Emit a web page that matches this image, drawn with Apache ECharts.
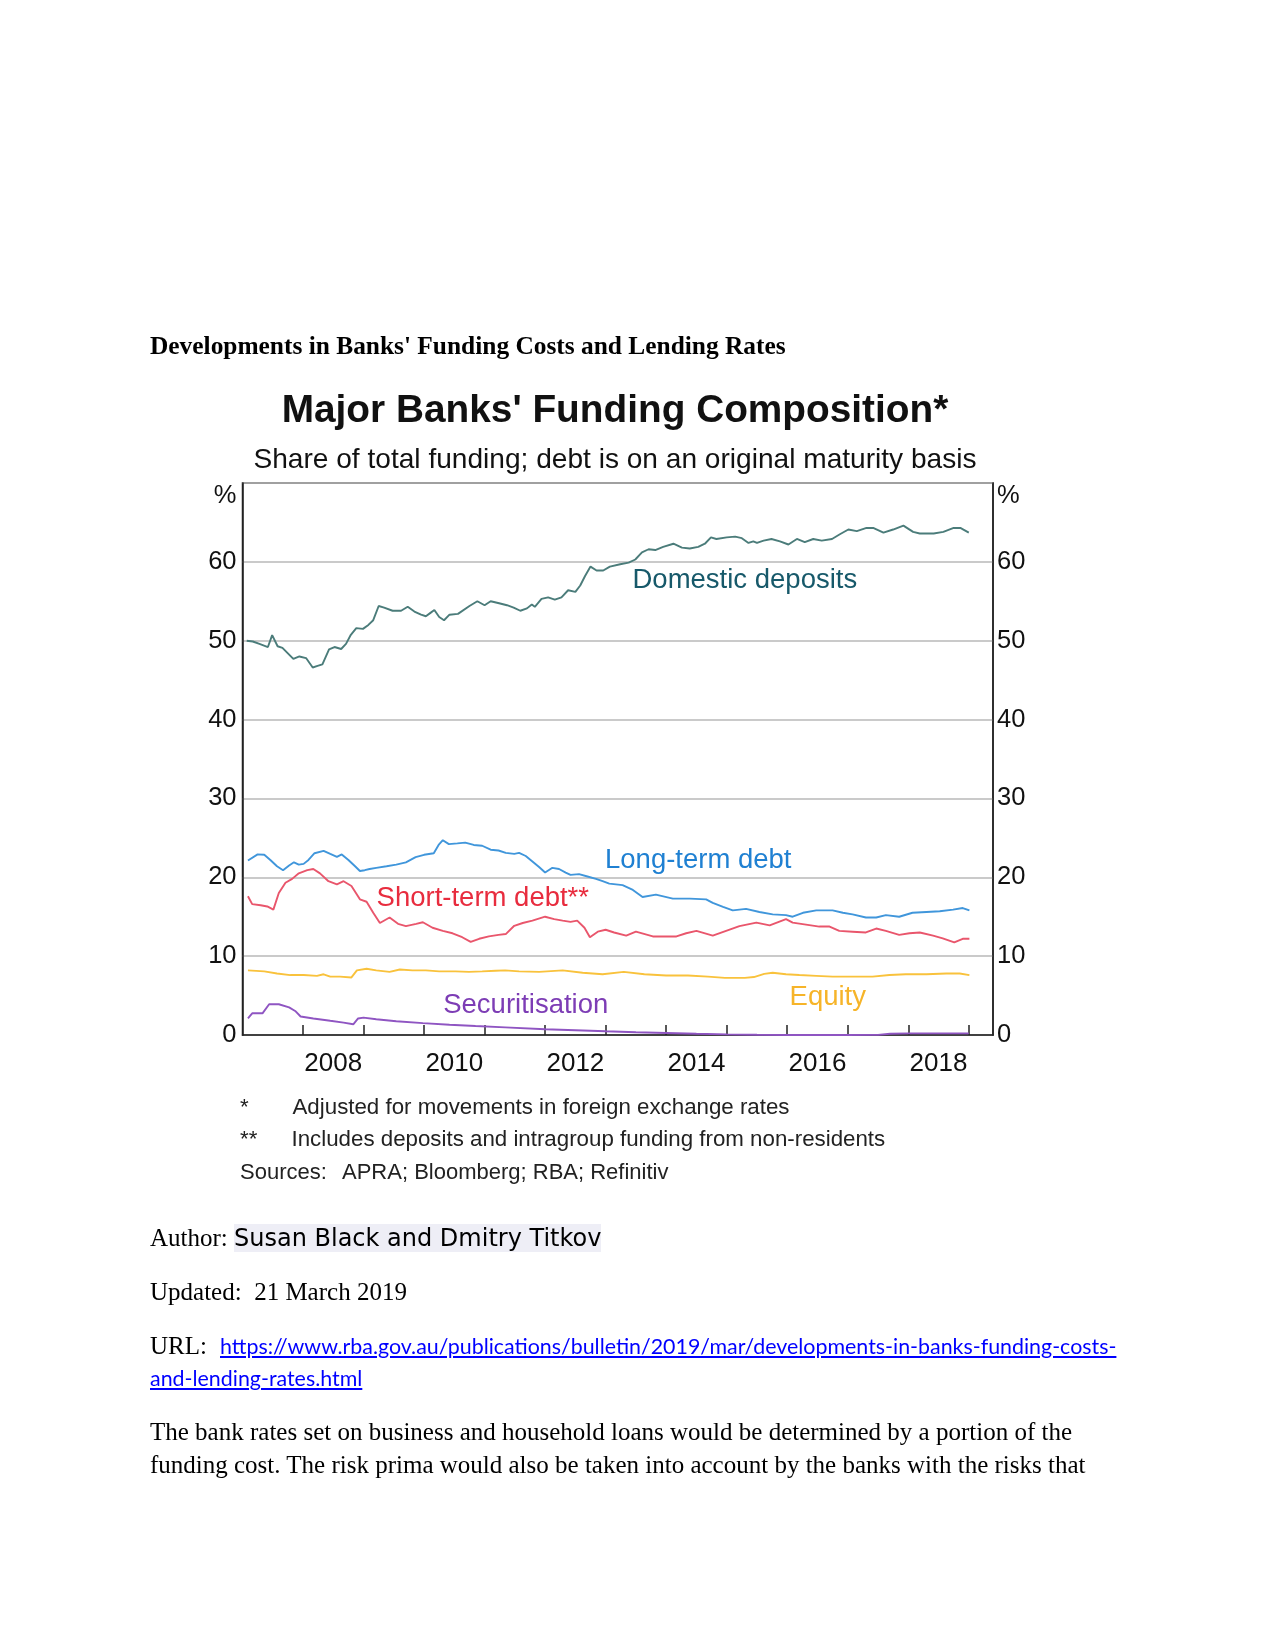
<!DOCTYPE html>
<html>
<head>
<meta charset="utf-8">
<script src="https://cdn.jsdelivr.net/npm/echarts@6/dist/echarts.min.js"></script>
<style>
  html, body { margin: 0; padding: 0; background: #fff; }
  #page { position: relative; width: 1275px; height: 1651px; overflow: hidden; background: #fff; }
  #chart { position: absolute; left: 0; top: 0; width: 1275px; height: 1651px; }
  .t { position: absolute; white-space: nowrap; font-family: 'Liberation Serif', 'Times New Roman', serif; font-size: 25px; line-height: 32px; color: #000; z-index: 2; }
  .b { font-weight: bold; font-size: 25.4px; }
  .auth { font-family: 'DejaVu Sans', sans-serif; font-size: 24px; background: #eeeef6; }
  .link { font-family: 'Lato', sans-serif; font-size: 21.4px; color: #0000ff; text-decoration: underline; }
</style>
</head>
<body>
<div id="page">
  <div id="chart"></div>
  <div class="t b" style="left:150px; top:329px;">Developments in Banks' Funding Costs and Lending Rates</div>
  <div class="t" style="left:150px; top:1222px;">Author: <span class="auth">Susan Black and Dmitry Titkov</span></div>
  <div class="t" style="left:150px; top:1276px;">Updated:&nbsp; 21 March 2019</div>
  <div class="t" style="left:150px; top:1330px;">URL:</div>
  <div class="t" style="left:220px; top:1330px;"><span class="link">https://www.rba.gov.au/publications/bulletin/2019/mar/developments-in-banks-funding-costs-</span></div>
  <div class="t" style="left:150px; top:1362px;"><span class="link">and-lending-rates.html</span></div>
  <div class="t" style="left:150px; top:1416px;">The bank rates set on business and household loans would be determined by a portion of the</div>
  <div class="t" style="left:150px; top:1448.5px;">funding cost. The risk prima would also be taken into account by the banks with the risks that</div>
</div>
<script>
// ---- Data (year as decimal, value in % of total funding) ----
const tickYears = [2008, 2009, 2010, 2011, 2012, 2013, 2014, 2015, 2016, 2017, 2018, 2019];
const labelYears = [2008, 2010, 2012, 2014, 2016, 2018];

const domesticDeposits = [
  [2007.07,50.0],[2007.17,49.9],[2007.28,49.6],[2007.42,49.2],[2007.49,50.7],[2007.58,49.3],[2007.66,49.1],[2007.75,48.4],
  [2007.84,47.7],[2007.94,48.0],[2008.05,47.8],[2008.16,46.6],[2008.24,46.8],[2008.32,47.0],[2008.43,48.9],[2008.52,49.2],
  [2008.63,48.95],[2008.71,49.6],[2008.79,50.75],[2008.88,51.6],[2008.99,51.5],[2009.08,52.0],[2009.16,52.6],[2009.25,54.4],
  [2009.34,54.2],[2009.48,53.8],[2009.62,53.8],[2009.73,54.3],[2009.84,53.7],[2009.95,53.3],[2010.03,53.1],[2010.10,53.5],
  [2010.17,53.9],[2010.25,53.0],[2010.33,52.6],[2010.42,53.3],[2010.56,53.4],[2010.75,54.4],[2010.88,55.0],[2011.0,54.5],
  [2011.10,55.0],[2011.24,54.75],[2011.37,54.5],[2011.48,54.2],[2011.59,53.8],[2011.70,54.1],[2011.78,54.6],[2011.83,54.3],
  [2011.94,55.3],[2012.05,55.5],[2012.16,55.2],[2012.27,55.5],[2012.38,56.4],[2012.50,56.2],[2012.58,57.0],[2012.66,58.2],
  [2012.75,59.4],[2012.85,58.9],[2012.96,58.9],[2013.07,59.4],[2013.24,59.7],[2013.38,59.9],[2013.49,60.3],[2013.60,61.2],
  [2013.71,61.6],[2013.82,61.5],[2013.95,61.9],[2014.12,62.3],[2014.26,61.8],[2014.39,61.7],[2014.53,61.9],[2014.64,62.3],
  [2014.74,63.1],[2014.83,62.9],[2015.0,63.1],[2015.14,63.2],[2015.25,63.0],[2015.36,62.4],[2015.44,62.6],[2015.50,62.4],
  [2015.61,62.7],[2015.74,62.9],[2015.88,62.6],[2016.02,62.2],[2016.16,62.9],[2016.29,62.5],[2016.43,62.9],[2016.57,62.7],
  [2016.74,62.9],[2016.87,63.5],[2017.01,64.1],[2017.15,63.9],[2017.31,64.3],[2017.42,64.3],[2017.59,63.7],[2017.75,64.1],
  [2017.92,64.6],[2018.08,63.8],[2018.19,63.6],[2018.42,63.6],[2018.58,63.8],[2018.75,64.3],[2018.86,64.3],[2019.0,63.7]
];

const longTermDebt = [
  [2007.09,22.13],[2007.25,22.9],[2007.36,22.85],[2007.46,22.2],[2007.57,21.4],[2007.67,20.9],[2007.77,21.5],[2007.85,21.9],
  [2007.93,21.6],[2008.01,21.7],[2008.09,22.2],[2008.19,23.05],[2008.34,23.35],[2008.45,22.97],[2008.56,22.6],[2008.64,22.9],
  [2008.75,22.2],[2008.86,21.4],[2008.94,20.8],[2009.02,20.9],[2009.10,21.05],[2009.21,21.2],[2009.38,21.4],[2009.54,21.6],
  [2009.70,21.9],[2009.86,22.55],[2010.0,22.85],[2010.16,23.05],[2010.24,24.1],[2010.31,24.7],[2010.41,24.2],[2010.55,24.3],
  [2010.68,24.4],[2010.82,24.1],[2010.96,24.0],[2011.1,23.5],[2011.23,23.4],[2011.35,23.1],[2011.49,22.97],[2011.57,23.1],
  [2011.68,22.7],[2011.79,22.0],[2011.90,21.3],[2012.0,20.6],[2012.12,21.2],[2012.23,21.05],[2012.34,20.6],[2012.42,20.3],
  [2012.56,20.4],[2012.70,20.1],[2012.84,19.8],[2012.95,19.5],[2013.06,19.2],[2013.28,19.0],[2013.45,18.4],[2013.61,17.5],
  [2013.83,17.8],[2014.11,17.3],[2014.39,17.3],[2014.66,17.2],[2014.77,16.75],[2014.94,16.25],[2015.10,15.8],[2015.32,16.0],
  [2015.54,15.6],[2015.76,15.3],[2015.98,15.2],[2016.09,15.0],[2016.26,15.5],[2016.48,15.8],[2016.75,15.8],[2016.92,15.5],
  [2017.08,15.3],[2017.30,14.9],[2017.47,14.9],[2017.63,15.2],[2017.85,15.0],[2018.07,15.5],[2018.30,15.6],[2018.52,15.7],
  [2018.74,15.9],[2018.90,16.1],[2019.01,15.8]
];

const shortTermDebt = [
  [2007.09,17.6],[2007.16,16.6],[2007.30,16.45],[2007.41,16.3],[2007.51,15.9],[2007.60,18.0],[2007.71,19.3],[2007.82,19.8],
  [2007.93,20.5],[2008.07,20.9],[2008.17,21.05],[2008.28,20.5],[2008.42,19.5],[2008.56,19.1],[2008.67,19.5],[2008.80,18.9],
  [2008.94,17.2],[2009.05,16.9],[2009.16,15.5],[2009.27,14.2],[2009.43,14.9],[2009.57,14.1],[2009.70,13.8],[2009.87,14.1],
  [2009.98,14.3],[2010.14,13.6],[2010.31,13.2],[2010.47,12.9],[2010.63,12.4],[2010.77,11.8],[2010.91,12.2],[2011.07,12.5],
  [2011.23,12.7],[2011.35,12.8],[2011.49,13.85],[2011.63,14.2],[2011.79,14.5],[2012.0,15.0],[2012.15,14.7],[2012.29,14.5],
  [2012.42,14.35],[2012.53,14.5],[2012.65,13.6],[2012.74,12.4],[2012.87,13.1],[2013.0,13.35],[2013.14,13.0],[2013.34,12.6],
  [2013.50,13.1],[2013.78,12.5],[2014.17,12.5],[2014.33,12.9],[2014.50,13.2],[2014.77,12.6],[2014.99,13.2],[2015.21,13.8],
  [2015.49,14.25],[2015.71,13.9],[2015.98,14.7],[2016.09,14.25],[2016.31,14.0],[2016.53,13.75],[2016.70,13.75],[2016.86,13.2],
  [2017.08,13.1],[2017.30,13.0],[2017.47,13.5],[2017.63,13.2],[2017.85,12.7],[2018.02,12.9],[2018.19,13.0],[2018.41,12.6],
  [2018.57,12.25],[2018.76,11.75],[2018.90,12.2],[2019.01,12.2]
];

const equity = [
  [2007.09,8.2],[2007.36,8.07],[2007.57,7.8],[2007.79,7.6],[2008.01,7.6],[2008.23,7.5],[2008.34,7.7],[2008.45,7.4],
  [2008.61,7.4],[2008.80,7.3],[2008.89,8.2],[2009.05,8.4],[2009.21,8.2],[2009.43,8.0],[2009.60,8.3],[2009.81,8.2],
  [2010.03,8.2],[2010.25,8.07],[2010.52,8.07],[2010.74,8.0],[2010.96,8.07],[2011.18,8.15],[2011.34,8.2],[2011.57,8.07],
  [2011.90,8.0],[2012.29,8.2],[2012.62,7.9],[2012.95,7.7],[2013.30,8.0],[2013.64,7.7],[2014.0,7.55],[2014.36,7.55],
  [2014.69,7.4],[2014.97,7.25],[2015.30,7.25],[2015.45,7.35],[2015.62,7.75],[2015.76,7.9],[2015.98,7.7],[2016.20,7.6],
  [2016.48,7.5],[2016.75,7.4],[2017.08,7.4],[2017.41,7.4],[2017.69,7.6],[2017.96,7.7],[2018.30,7.7],[2018.63,7.8],
  [2018.85,7.8],[2019.01,7.6]
];

const securitisation = [
  [2007.09,2.1],[2007.16,2.75],[2007.33,2.75],[2007.44,3.9],[2007.60,3.9],[2007.77,3.5],[2007.87,3.05],[2007.96,2.35],
  [2008.17,2.1],[2008.45,1.8],[2008.67,1.57],[2008.83,1.36],[2008.91,2.1],[2009.0,2.2],[2009.21,2.0],[2009.54,1.75],
  [2009.98,1.5],[2010.42,1.3],[2010.85,1.14],[2011.34,0.97],[2012.0,0.72],[2012.5,0.6],[2013.0,0.47],[2013.5,0.35],
  [2014.0,0.25],[2014.5,0.15],[2015.0,0.08],[2015.5,0.03],[2016.0,0.0],[2016.5,0.0],[2017.0,0.0],[2017.5,0.02],
  [2017.7,0.15],[2018.0,0.2],[2018.5,0.2],[2019.0,0.2]
];

// Series label anchors (data coordinates: year, %)
const seriesLabels = [
  { name: 'Domestic deposits', coord: [2015.30, 57.7], color: '#17596a' },
  { name: 'Long-term debt', coord: [2014.53, 22.15], color: '#1f80d2' },
  { name: 'Short-term debt**', coord: [2010.97, 17.34], color: '#e82c3e' },
  { name: 'Equity', coord: [2016.67, 4.81], color: '#f6b429' },
  { name: 'Securitisation', coord: [2011.68, 3.8], color: '#7d3db5' }
];

const FONT = "'Liberation Sans', Arial, Helvetica, sans-serif";

const chart = echarts.init(document.getElementById('chart'), null, { renderer: 'canvas' });

function lineSeries(name, data, color) {
  return {
    name: name, type: 'line', data: data, showSymbol: false, symbol: 'none',
    lineStyle: { color: color, width: 1.9 }, itemStyle: { color: color },
    animation: false, z: 3
  };
}

const yLabelFormatter = function (v) { return v === 70 ? '{p|%}' : String(v); };

const option = {
  animation: false,
  backgroundColor: 'transparent',
  textStyle: { fontFamily: FONT },
  grid: {
    left: 242.5, top: 483, width: 750.5, height: 552,
    show: true, borderColor: '#222', borderWidth: 1.5, backgroundColor: 'transparent',
    containLabel: false, outerBoundsMode: 'none'
  },
  xAxis: {
    type: 'value', min: 2007, max: 2019.4, interval: 1,
    axisLine: { show: true, lineStyle: { color: '#222', width: 1.5 } },
    axisTick: { show: true, inside: true, length: 10, lineStyle: { color: '#222', width: 1.5 }, customValues: tickYears },
    axisLabel: {
      customValues: labelYears.map(function (y) { return y + 0.5; }),
      formatter: function (v) { return String(Math.floor(v)); },
      fontSize: 26, color: '#111', margin: 16, fontFamily: FONT
    },
    splitLine: { show: false }
  },
  yAxis: [
    {
      type: 'value', position: 'left', min: 0, max: 70, interval: 10,
      axisLine: { show: true, lineStyle: { color: '#222', width: 1.5 } },
      axisTick: { show: false },
      axisLabel: { formatter: yLabelFormatter, fontSize: 25.5, color: '#111', margin: 6, fontFamily: FONT,
        rich: { p: { fontSize: 25.5, color: '#111', padding: [26, 0, 0, 0], fontFamily: FONT } } },
      splitLine: { show: true, lineStyle: { color: '#b8b8b8', width: 1.5 } }
    },
    {
      type: 'value', position: 'right', min: 0, max: 70, interval: 10,
      axisLine: { show: true, lineStyle: { color: '#222', width: 1.5 } },
      axisTick: { show: false },
      axisLabel: { formatter: yLabelFormatter, fontSize: 25.5, color: '#111', margin: 4, fontFamily: FONT,
        rich: { p: { fontSize: 25.5, color: '#111', padding: [26, 0, 0, 0], fontFamily: FONT } } },
      splitLine: { show: false }
    }
  ],
  series: [
    lineSeries('Equity', equity, '#f9c23c'),
    lineSeries('Securitisation', securitisation, '#8f55c2'),
    lineSeries('Short-term debt', shortTermDebt, '#e9566c'),
    lineSeries('Long-term debt', longTermDebt, '#4096db'),
    Object.assign(lineSeries('Domestic deposits', domesticDeposits, '#4b7c7a'), {
      markPoint: {
        silent: true, animation: false,
        symbol: 'circle', symbolSize: 1,
        itemStyle: { color: 'rgba(0,0,0,0)' },
        data: seriesLabels.map(function (l) {
          return {
            name: l.name, coord: l.coord,
            label: { show: true, position: 'inside', formatter: '{b}', color: l.color,
                     fontSize: 27.5, fontFamily: FONT }
          };
        })
      }
    })
  ],
  graphic: [
    { type: 'text', x: 615, y: 411, silent: true,
      style: { text: "Major Banks' Funding Composition*", font: "bold 38.8px " + FONT, fill: '#111', align: 'center', verticalAlign: 'middle' } },
    { type: 'text', x: 615, y: 460, silent: true,
      style: { text: 'Share of total funding; debt is on an original maturity basis', font: "28.1px " + FONT, fill: '#111', align: 'center', verticalAlign: 'middle' } },
    { type: 'text', x: 240, y: 1108, silent: true,
      style: { text: '*', font: "22.3px " + FONT, fill: '#222', align: 'left', verticalAlign: 'middle' } },
    { type: 'text', x: 292.5, y: 1108, silent: true,
      style: { text: 'Adjusted for movements in foreign exchange rates', font: "22.3px " + FONT, fill: '#222', align: 'left', verticalAlign: 'middle' } },
    { type: 'text', x: 240, y: 1140, silent: true,
      style: { text: '**', font: "22.3px " + FONT, fill: '#222', align: 'left', verticalAlign: 'middle' } },
    { type: 'text', x: 291.5, y: 1140, silent: true,
      style: { text: 'Includes deposits and intragroup funding from non-residents', font: "22.3px " + FONT, fill: '#222', align: 'left', verticalAlign: 'middle' } },
    { type: 'text', x: 240, y: 1173, silent: true,
      style: { text: 'Sources:', font: "22px " + FONT, fill: '#222', align: 'left', verticalAlign: 'middle' } },
    { type: 'text', x: 342, y: 1173, silent: true,
      style: { text: 'APRA; Bloomberg; RBA; Refinitiv', font: "22px " + FONT, fill: '#222', align: 'left', verticalAlign: 'middle' } }
  ]
};

chart.setOption(option);
</script>
</body>
</html>
